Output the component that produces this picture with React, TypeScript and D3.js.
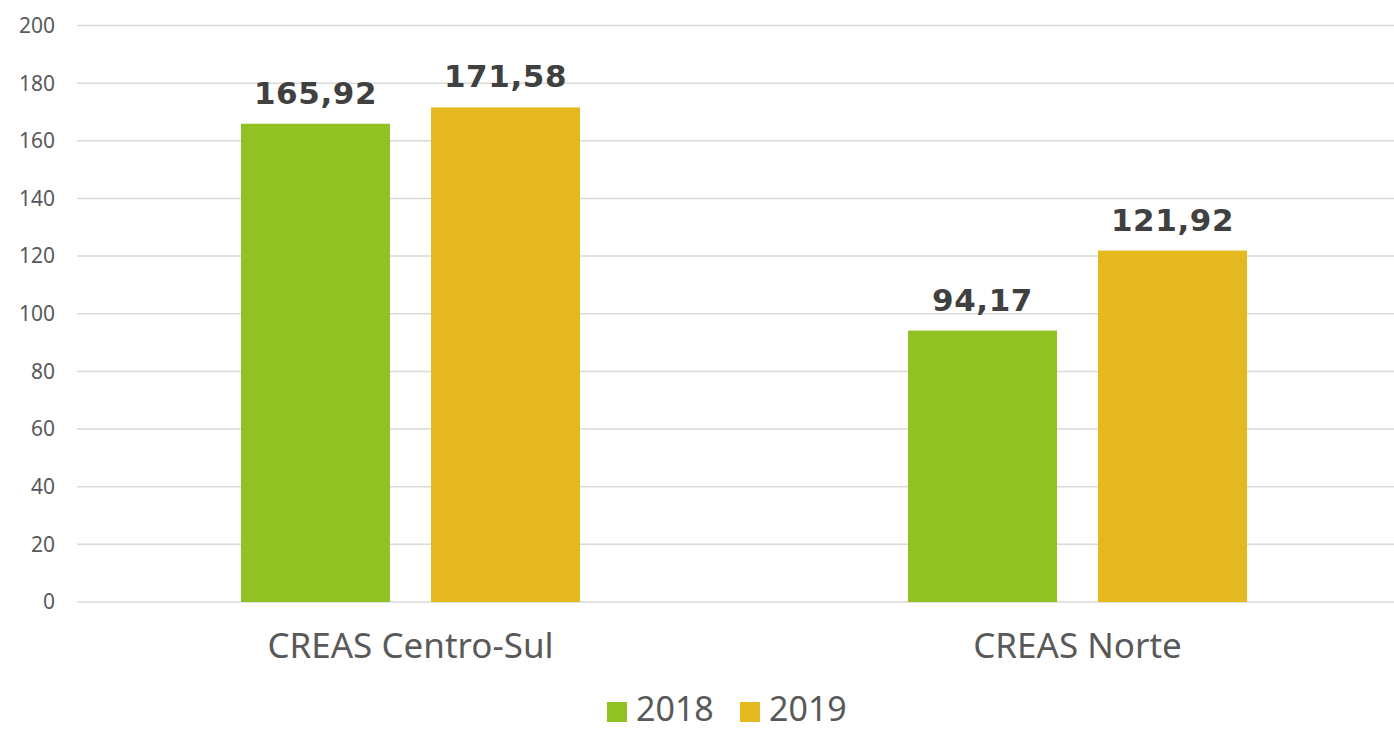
import React from "react";
import * as d3 from "d3";

const categories = ["CREAS Centro-Sul", "CREAS Norte"];
const seriesNames = ["2018", "2019"];
const values2018 = [165.92, 94.17];
const values2019 = [171.58, 121.92];
const yTicks = [0, 20, 40, 60, 80, 100, 120, 140, 160, 180, 200];
const colors = ["#92C123", "#E5B820"];

const W = 1394;
const H = 731;

export default function App() {
  const series = [values2018, values2019];
  const y = d3.scaleLinear().domain([0, 200]).range([602, 25.5]);
  const x0 = d3.scaleBand<string>().domain(categories).range([77, 1411]).padding(0);
  const outer = 164;
  const x1 = d3
    .scaleBand<string>()
    .domain(seriesNames)
    .range([outer, x0.bandwidth() - outer])
    .paddingInner(41 / 190)
    .paddingOuter(0);
  const fmt = (v: number) => v.toFixed(2).replace(".", ",");

  return (
    <svg
      width={W}
      height={H}
      style={{ position: "absolute", left: 0, top: 0, background: "#fff" }}
    >
      {yTicks.map((t) => (
        <g key={t}>
          <line x1={77} x2={W} y1={y(t)} y2={y(t)} stroke="#d9d9d9" strokeWidth={1.5} />
          <text
            x={55}
            y={y(t)}
            dy="0.35em"
            textAnchor="end"
            fontFamily="'Noto Sans', sans-serif"
            fontSize={21}
            fill="#595959"
          >
            {t}
          </text>
        </g>
      ))}
      {categories.map((c, ci) => (
        <g key={c} transform={`translate(${x0(c)},0)`}>
          {seriesNames.map((s, si) => {
            const v = series[si][ci];
            const bx = x1(s)!;
            return (
              <g key={s}>
                <rect
                  x={bx}
                  y={y(v)}
                  width={x1.bandwidth()}
                  height={y(0) - y(v)}
                  fill={colors[si]}
                />
                <text
                  x={bx + x1.bandwidth() / 2}
                  y={y(v) - 20}
                  textAnchor="middle"
                  fontFamily="'DejaVu Sans', sans-serif"
                  fontWeight="bold"
                  fontSize={31}
                  letterSpacing={0.6}
                  fill="#404040"
                >
                  {fmt(v)}
                </text>
              </g>
            );
          })}
          <text
            x={x0.bandwidth() / 2}
            y={658}
            textAnchor="middle"
            fontFamily="'Noto Sans', sans-serif"
            fontSize={35}
            fill="#595959"
          >
            {c}
          </text>
        </g>
      ))}
      {seriesNames.map((s, si) => {
        const lx = 607 + si * 133;
        return (
          <g key={s}>
            <rect x={lx} y={702} width={20} height={20} fill={colors[si]} />
            <text
              x={lx + 29}
              y={721}
              fontFamily="'Noto Sans', sans-serif"
              fontSize={34}
              fill="#595959"
            >
              {s}
            </text>
          </g>
        );
      })}
    </svg>
  );
}
